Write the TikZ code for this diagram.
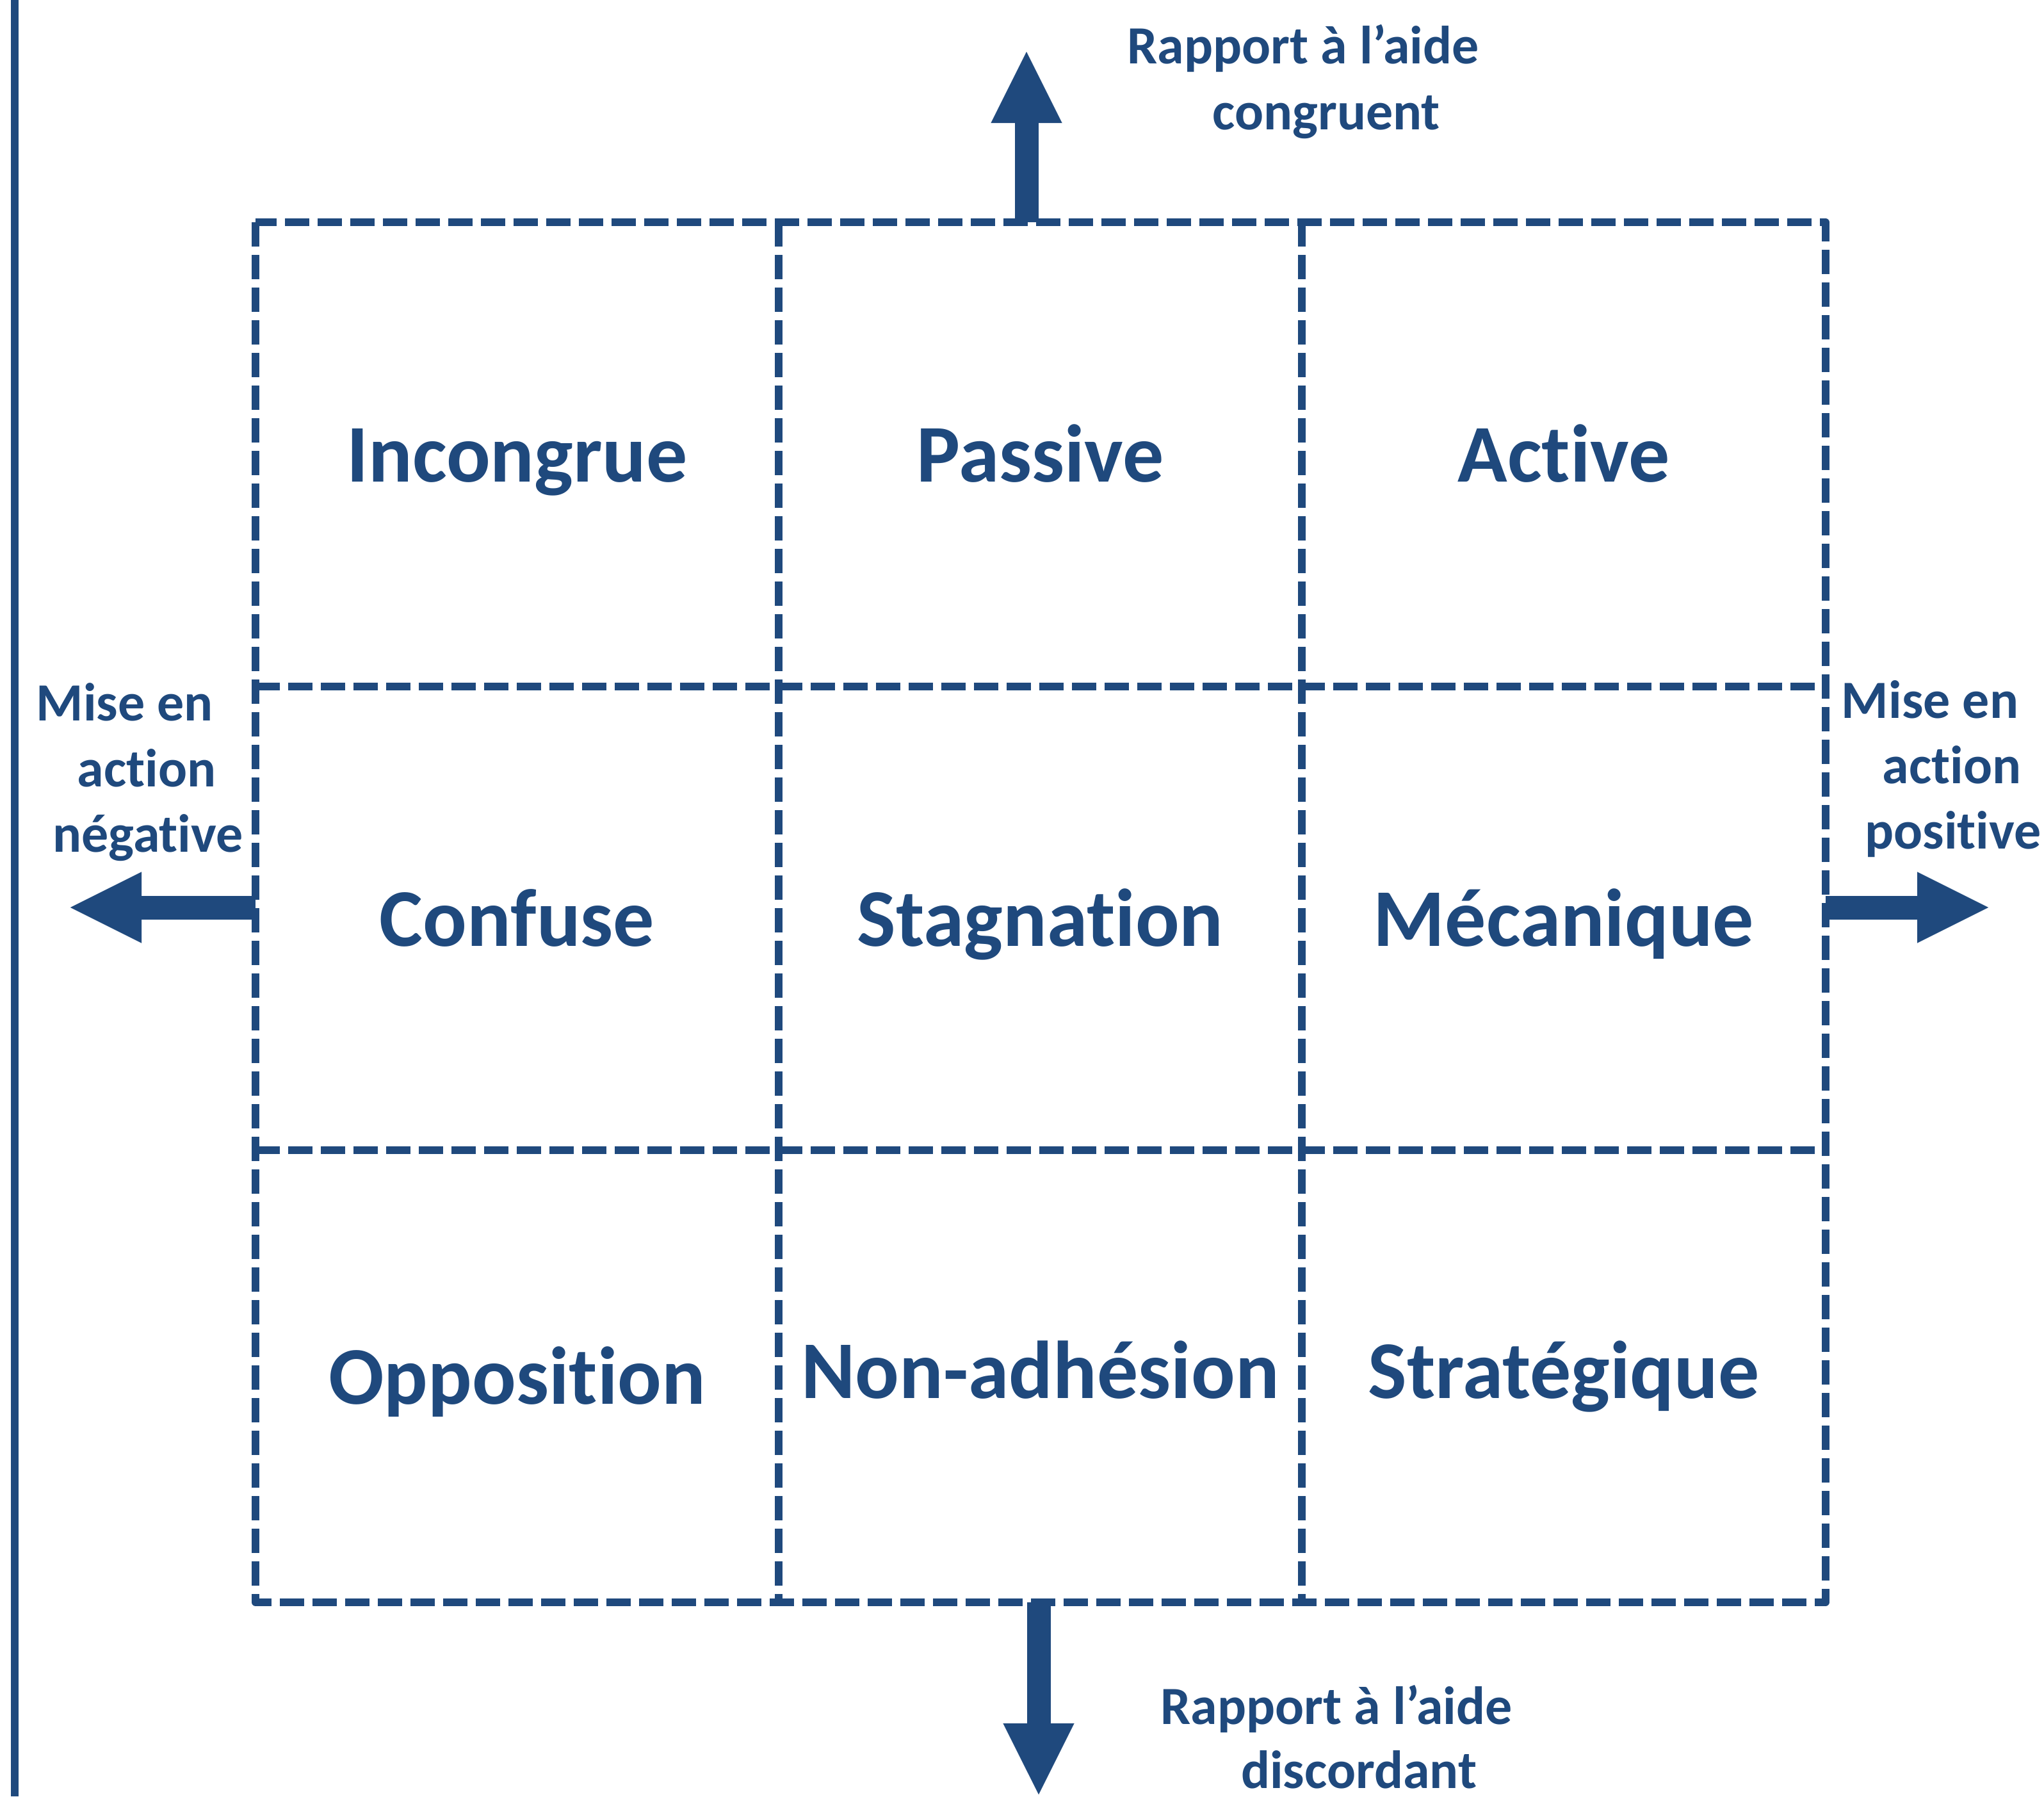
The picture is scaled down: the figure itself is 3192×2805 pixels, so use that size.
\documentclass[tikz,border=0pt]{standalone}
\usepackage{fontspec}
\setmainfont{Carlito}[Ligatures={TeX,NoCommon,NoContextual},Contextuals=NoAlternate]
\usetikzlibrary{arrows.meta}
\definecolor{navy}{RGB}{31,73,125}
\begin{document}
\begin{tikzpicture}[x=1pt,y=-1pt,
  cell/.style={rectangle, inner sep=0pt, outer sep=0pt,
    minimum width=817pt, minimum height=#1},
  gridline/.style={draw=navy, line width=12pt, dash pattern=on 38pt off 13pt,
    line join=round},
  big/.style={text=navy, font=\fontsize{128pt}{156pt}\selectfont\bfseries,
    anchor=base, inner sep=0pt},
  small/.style={text=navy, font=\fontsize{84pt}{102.5pt}\selectfont\bfseries,
    anchor=base, inner sep=0pt},
  bigarrow/.style={draw=navy, line width=37pt,
    -{Triangle[length=111pt, width=111pt, line width=0.1pt]}}
]
\useasboundingbox (0,0) rectangle (3192,2805);

% left rule
\draw[navy, line width=12pt] (23,0) -- (23,2805);

% cells
\node[cell=725pt] (c11) at (807.5,709.5) {};
\node[cell=725pt] (c12) at (1624.5,709.5) {};
\node[cell=725pt] (c13) at (2442,709.5) {};
\node[cell=724pt] (c21) at (807.5,1434) {};
\node[cell=724pt] (c22) at (1624.5,1434) {};
\node[cell=724pt] (c23) at (2442,1434) {};
\node[cell=706pt] (c31) at (807.5,2149) {};
\node[cell=706pt] (c32) at (1624.5,2149) {};
\node[cell=706pt] (c33) at (2442,2149) {};

% grid
\draw[gridline] (c11.north west) rectangle (c33.south east);
\draw[gridline] (c11.north east) -- (c31.south east);
\draw[gridline] (c12.north east) -- (c32.south east);
\draw[gridline] (c11.south west) -- (c13.south east);
\draw[gridline] (c21.south west) -- (c23.south east);

% cell labels
\node[big] (l11) at ([yshift=-43pt]c11.center) {Incongrue};
\node[big] (l12) at ([yshift=-43pt]c12.center) {Passive};
\node[big] (l13) at ([yshift=-43pt]c13.center) {Active};
\node[big] (l21) at ([yshift=-43pt]c21.center) {Confuse};
\node[big] (l22) at ([yshift=-43pt]c22.center) {Stagnation};
\node[big] (l23) at ([yshift=-43pt]c23.center) {Mécanique};
\node[big] (l31) at ([yshift=-43pt]c31.center) {Opposition};
\node[big] (l32) at ([yshift=-34pt]c32.center) {Non-adhésion};
\node[big] (l33) at ([yshift=-34pt]c33.center) {Stratégique};

% arrows
\coordinate (tt) at (1603,81);
\coordinate (bt) at (1622,2802);
\coordinate (lt) at (110,1417);
\coordinate (rt) at (3105,1417);
\draw[bigarrow] (c12.north -| tt) -- (tt);
\draw[bigarrow] (c32.south -| bt) -- (bt);
\draw[bigarrow] (c21.west |- lt) -- (lt);
\draw[bigarrow] (c23.east |- rt) -- (rt);

% axis labels
\node[small] (ta1) at (2035,99) {Rapport à l’aide};
\node[small] (ta2) at (2071,202) {congruent};
\node[small] (ba1) at (2087,2692) {Rapport à l’aide};
\node[small] (ba2) at (2122,2792) {discordant};
\node[small] (la1) at (195,1125) {Mise en};
\node[small] (la2) at (229,1228) {action};
\node[small] (la3) at (231,1330) {négative};
\node[small] (ra1) at (3014,1121) {Mise en};
\node[small] (ra2) at (3048,1223) {action};
\node[small] (ra3) at (3050,1325) {positive};
\end{tikzpicture}
\end{document}
